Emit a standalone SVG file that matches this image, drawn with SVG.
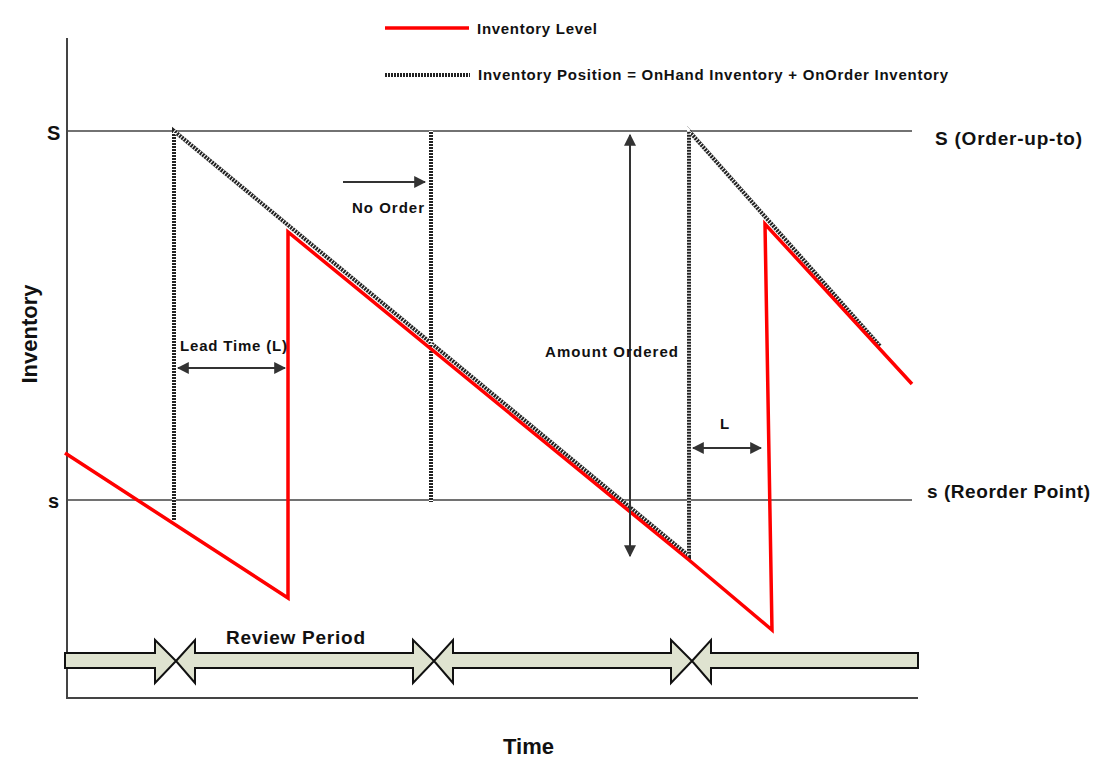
<svg xmlns="http://www.w3.org/2000/svg" width="1101" height="765" viewBox="0 0 1101 765">
<defs>
<style>
.t{font-family:"Liberation Sans",Arial,sans-serif;font-weight:bold;fill:#111}
.ax{stroke:#444;stroke-width:2;fill:none}
.hb{stroke:#222;stroke-width:4;fill:none}
.hw{stroke:#fff;stroke-width:4;stroke-dasharray:1 2;fill:none}
.red{stroke:#f00;stroke-width:3.5;fill:none;stroke-linejoin:miter}
.arr{stroke:#333;stroke-width:2;fill:none}
.band{fill:#dfe3d0;stroke:#111;stroke-width:2}
</style>
<marker id="ah" viewBox="0 0 10 10" refX="9" refY="5" markerWidth="6" markerHeight="6" orient="auto-start-reverse"><path d="M0,0L10,5L0,10z" fill="#333"/></marker>
</defs>
<g id="axes">
<path class="ax" d="M67,38V698H918"/>
<path d="M67,131H912M67,500H912" stroke="#444" stroke-width="1.5"/>
</g>
<g id="band">
<path class="band" d="M65,653H155V640L176,661L155,683V668H65Z"/>
<path class="band" d="M176,661L195,640V653H413V640L434,661L413,683V668H195V683Z"/>
<path class="band" d="M434,661L453,640V653H671V640L692,661L671,683V668H453V683Z"/>
<path class="band" d="M692,661L711,640V653H918V668H711V683Z"/>
</g>
<g id="connectors">
<path class="hb" d="M174,521V131L689,556V131L880,346M431,131V502"/>
<path class="hw" d="M174,521V131L689,556V131L880,346M431,131V502"/>
<path class="red" d="M65,453L288,598V232L689,560L772,630L765,224L912,384"/>
<path class="arr" d="M343,182H425" marker-end="url(#ah)"/>
<path class="arr" d="M178,368H285" marker-start="url(#ah)" marker-end="url(#ah)"/>
<path class="arr" d="M693,448H761" marker-start="url(#ah)" marker-end="url(#ah)"/>
<path class="arr" d="M630,135V556" marker-start="url(#ah)" marker-end="url(#ah)"/>
</g>
<g id="legend">
<path d="M385,28H469" stroke="#f00" stroke-width="3.5"/>
<path class="hb" d="M384,75H470" stroke-width="3"/><path class="hw" d="M384,75H470" stroke-width="3"/>
<text class="t" x="477" y="34" font-size="15" textLength="120">Inventory Level</text>
<text class="t" x="478" y="80" font-size="15" textLength="470">Inventory Position = OnHand Inventory + OnOrder Inventory</text>
</g>
<g id="labels">
<text class="t" x="47" y="140" font-size="20">S</text>
<text class="t" x="48" y="508" font-size="20">s</text>
<text class="t" x="935" y="145" font-size="19" textLength="147">S (Order-up-to)</text>
<text class="t" x="927" y="498" font-size="19" textLength="163">s (Reorder Point)</text>
<text class="t" x="352" y="213" font-size="15" textLength="72">No Order</text>
<text class="t" x="180" y="351" font-size="15" textLength="107">Lead Time (L)</text>
<text class="t" x="545" y="357" font-size="15" textLength="133">Amount Ordered</text>
<text class="t" x="720" y="429" font-size="15">L</text>
<text class="t" x="226" y="644" font-size="19" textLength="139">Review Period</text>
<text class="t" x="503" y="754" font-size="22">Time</text>
<text class="t" font-size="22" transform="translate(37,334) rotate(-90)" text-anchor="middle">Inventory</text>
</g>
</svg>
